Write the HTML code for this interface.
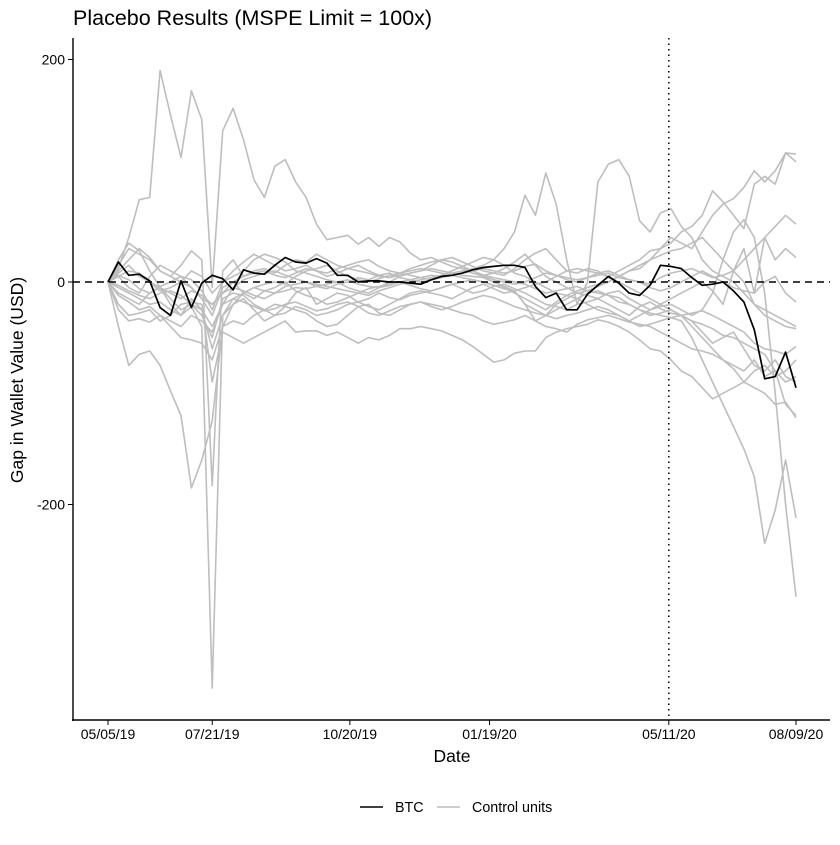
<!DOCTYPE html>
<html><head><meta charset="utf-8"><style>
body{margin:0;background:#fff;}
svg text{font-family:"Liberation Sans",sans-serif;}
</style></head><body>
<svg id="chart" width="840" height="840" viewBox="0 0 840 840" xmlns="http://www.w3.org/2000/svg">
<rect width="840" height="840" fill="#fff"/>
<text x="73" y="25" font-size="21.5" fill="#000">Placebo Results (MSPE Limit = 100x)</text>
<g id="controls"></g>
<g id="refs"></g>
<g id="btc"></g>
<g id="axes"></g>
<text x="452" y="762" font-size="17.5" text-anchor="middle">Date</text>
<text transform="translate(23,380) rotate(-90)" font-size="17.5" text-anchor="middle">Gap in Wallet Value (USD)</text>
<g>
<line x1="360" y1="807" x2="383" y2="807" stroke="#000" stroke-width="1.5"/>
<text x="395" y="812" font-size="14.3">BTC</text>
<line x1="437" y1="807" x2="460" y2="807" stroke="#bebebe" stroke-width="1.5"/>
<text x="472" y="812" font-size="14.3">Control units</text>
</g>
</svg>
<script>
const tickIdx = [0, 10, 23.2, 36.6, 53.8, 66];
const tickLabels = ["05/05/19", "07/21/19", "10/20/19", "01/19/20", "05/11/20", "08/09/20"];
const yTicks = [200, 0, -200];
const treatIdx = 53.8;
const btc = [0,18,6,7,1,-23,-30,1,-23,-1,6,3,-7,11,8,7,15,22,18,17,21,17,6,6,0,1,1,0,0,-1,-2,2,5,6,8,11,13,14,15,15,13,-4,-14,-10,-25,-25,-11,-3,5,-1,-10,-12,-3,15,14,12,4,-3,-2,0,-8,-18,-43,-87,-85,-63,-95];
const c1 = [0,12,40,74,76,190,150,112,172,146,-5,136,156,128,92,76,104,110,90,76,52,38,40,42,34,40,32,40,36,26,20,22,18,14,12,10,12,10,8,10,14,16,10,6,4,2,4,6,8,4,2,0,-2,4,8,10,12,8,4,6,10,20,30,40,50,60,52];
const c2 = [0,-5,-10,-15,-20,-18,-25,-30,-22,-40,-365,-30,-15,-10,-5,-8,-10,-4,-2,0,-4,-6,-2,0,4,2,6,8,4,2,0,2,4,6,8,10,6,4,2,0,-2,-6,-10,-8,-6,-4,-8,-10,-12,-14,-20,-25,-30,-28,-25,-30,-35,-45,-55,-50,-45,-60,-75,-80,-70,-85,-90];
const c3 = [0,10,20,30,22,10,5,15,28,20,-183,10,20,5,8,10,6,4,8,12,10,8,12,15,18,20,14,10,8,12,15,18,20,22,18,14,10,8,6,12,20,26,30,20,10,8,12,10,4,0,-5,-10,-15,-20,-25,-30,-40,-50,-60,-70,-75,-80,-70,-85,-80,-90,-85];
const c4 = [0,-40,-75,-65,-62,-75,-98,-120,-185,-160,-125,-40,-20,-15,-25,-35,-30,-22,-10,-5,-20,-15,-10,-12,-18,-15,-10,-14,-16,-12,-10,-8,-5,-2,-6,-10,-8,-4,-2,-6,-10,-15,-20,-22,-25,-20,-18,-15,-20,-25,-30,-22,-18,-24,-28,-30,-35,-38,-42,-48,-50,-55,-60,-65,-80,-110,-120];
const c5 = [0,5,10,8,0,-5,-10,-15,-8,-12,-20,-10,-5,-8,-12,-15,-10,-8,-5,-6,-4,-2,0,2,-2,-4,-5,-3,0,2,4,6,5,8,10,12,15,20,30,45,78,60,98,70,20,-20,0,90,106,110,95,55,45,62,66,50,40,20,10,5,0,-10,-20,-25,-30,-35,-40];
const c6 = [0,-20,-30,-28,-25,-35,-30,-20,-18,-20,-90,-45,-50,-55,-50,-45,-40,-35,-45,-44,-44,-48,-45,-50,-55,-50,-52,-48,-42,-42,-40,-42,-44,-48,-52,-58,-65,-72,-70,-64,-62,-62,-50,-45,-42,-40,-38,-34,-36,-40,-45,-52,-60,-62,-70,-80,-85,-95,-105,-100,-95,-90,-80,-75,-85,-80,-70];
const c7 = [0,5,-5,-10,5,15,10,5,-5,-15,-20,-10,0,5,10,12,8,15,20,18,25,20,15,12,10,8,5,4,6,8,10,12,10,8,6,5,4,0,-4,-8,-20,-35,-30,-25,-20,-15,-10,-8,-12,-18,-20,-25,-28,-30,-32,-35,-50,-70,-90,-110,-130,-150,-175,-235,-205,-160,-212];
const c8 = [0,-10,-15,-20,-10,-5,-15,-25,-20,-30,-50,-15,-10,-12,-20,-25,-30,-28,-22,-25,-30,-28,-25,-20,-18,-22,-25,-20,-15,-10,-8,-10,-12,-15,-10,-5,-2,-6,-10,-8,-20,-25,-30,-20,-15,-10,-12,-15,-10,-8,-15,-20,-25,-22,-20,-25,-30,-25,-10,20,45,56,40,-10,-100,-200,-283];
const c9 = [0,8,15,5,0,-8,-5,0,10,5,-10,0,5,10,20,25,22,18,10,8,5,2,0,-5,-8,-10,-5,0,5,8,10,15,20,18,14,10,6,8,12,18,25,15,5,0,-5,-10,-8,-4,0,5,10,12,20,30,40,35,30,45,60,70,75,85,100,90,100,116,115];
const c10 = [0,-3,-8,-12,-15,-10,-8,-12,-20,-25,-60,-30,-20,-10,-5,-2,0,-2,5,10,12,15,10,5,2,0,3,6,8,10,12,10,8,6,4,2,0,-3,-6,-8,-5,-2,0,5,10,12,10,8,5,10,15,20,28,30,35,45,50,60,82,72,60,48,88,95,88,116,108];
const c11 = [0,15,30,25,20,10,5,0,-5,-15,-30,-5,0,-10,-15,-8,-5,0,-8,-12,-15,-20,-18,-14,-10,-12,-8,-5,-2,0,2,4,6,10,14,18,22,20,15,8,5,0,-5,-10,-12,-8,-5,-2,0,5,10,15,20,24,28,30,35,40,30,20,10,0,-20,-30,-35,-40,-42];
const c12 = [0,-25,-35,-33,-36,-30,-40,-50,-52,-55,-70,-40,-35,-38,-30,-25,-20,-22,-25,-28,-35,-40,-38,-30,-22,-20,-28,-30,-25,-20,-18,-20,-22,-25,-28,-30,-35,-38,-36,-34,-30,-35,-40,-42,-45,-38,-34,-32,-30,-33,-36,-38,-40,-45,-50,-55,-60,-62,-65,-70,-78,-90,-95,-100,-110,-108,-122];
const c13 = [0,20,35,28,10,-5,-20,-30,-15,-25,-40,-20,-5,2,5,8,10,6,3,0,-2,-4,-6,-8,-10,-6,-4,-2,0,-3,-6,-8,-5,-2,0,2,0,-3,-5,-10,-15,-20,-25,-18,-12,-15,-20,-25,-28,-30,-35,-30,-25,-20,-15,-10,-5,0,-8,-20,10,30,-10,40,20,30,22];
const c14 = [0,-12,-18,-25,-22,-30,-35,-40,-30,-35,-45,-20,-15,-18,-22,-26,-24,-20,-18,-22,-26,-24,-20,-18,-22,-28,-30,-26,-22,-20,-18,-22,-25,-22,-18,-15,-12,-14,-18,-22,-25,-28,-30,-33,-30,-28,-25,-22,-25,-30,-35,-40,-38,-35,-32,-30,-28,-26,-30,-35,-40,-45,-55,-60,-62,-65,-58];
const c15 = [0,6,2,-6,-10,-4,0,5,2,-8,-25,0,10,18,25,20,15,10,12,15,10,5,8,12,15,10,6,4,8,6,4,2,5,8,10,8,5,2,0,-2,0,4,8,6,2,0,4,8,10,6,2,0,-5,-8,-5,0,5,10,5,0,-5,-8,-10,0,5,-10,-18];
const controls = [c1,c2,c3,c4,c5,c6,c7,c8,c9,c10,c11,c12,c13,c14,c15];

const NS = "http://www.w3.org/2000/svg";
const X0 = 108, X1 = 796, NMAX = 66;
function xs(i){ return X0 + (X1 - X0) * i / NMAX; }
function ys(v){ return 282 - v * 1.1125; }
function mk(tag, attrs, parent){
  const e = document.createElementNS(NS, tag);
  for (const k in attrs) e.setAttribute(k, attrs[k]);
  parent.appendChild(e);
  return e;
}
function pts(arr){ return arr.map((v,i)=>xs(i).toFixed(1)+","+ys(v).toFixed(1)).join(" "); }

const gC = document.getElementById("controls");
controls.forEach((s, k) => {
  const p = mk("polyline", {points: pts(s), fill: "none", stroke: "#bebebe", "stroke-width": 1.6, "stroke-linejoin": "round"}, gC);
  
  
});

const gR = document.getElementById("refs");
const zl = mk("line", {x1: 73, x2: 830, y1: ys(0), y2: ys(0), stroke: "#000", "stroke-width": 1.5, "stroke-dasharray": "7,5"}, gR);


const vl = mk("line", {x1: xs(treatIdx), x2: xs(treatIdx), y1: 38, y2: 720, stroke: "#000", "stroke-width": 1.5, "stroke-dasharray": "1.5,4"}, gR);



const gB = document.getElementById("btc");
const bl = mk("polyline", {points: pts(btc), fill: "none", stroke: "#000", "stroke-width": 1.7, "stroke-linejoin": "round"}, gB);



const gA = document.getElementById("axes");
const ya = mk("line", {x1: 73, x2: 73, y1: 38, y2: 721, stroke: "#000", "stroke-width": 1.4}, gA);


const xa = mk("line", {x1: 72, x2: 830, y1: 720, y2: 720, stroke: "#000", "stroke-width": 1.4}, gA);


yTicks.forEach(v => {
  const t = mk("line", {x1: 68, x2: 73, y1: ys(v), y2: ys(v), stroke: "#000", "stroke-width": 1}, gA);
  
  
  const l = mk("text", {x: 65, y: ys(v) + 5, "font-size": 14, "text-anchor": "end", fill: "#000"}, gA);
  l.textContent = String(v);
  
  
});
tickIdx.forEach((ix, k) => {
  const t = mk("line", {x1: xs(ix), x2: xs(ix), y1: 720, y2: 725, stroke: "#000", "stroke-width": 1}, gA);
  
  
  const l = mk("text", {x: xs(ix), y: 739, "font-size": 14, "text-anchor": "middle", fill: "#000"}, gA);
  l.textContent = tickLabels[k];
  
  
});
</script>
</body></html>
